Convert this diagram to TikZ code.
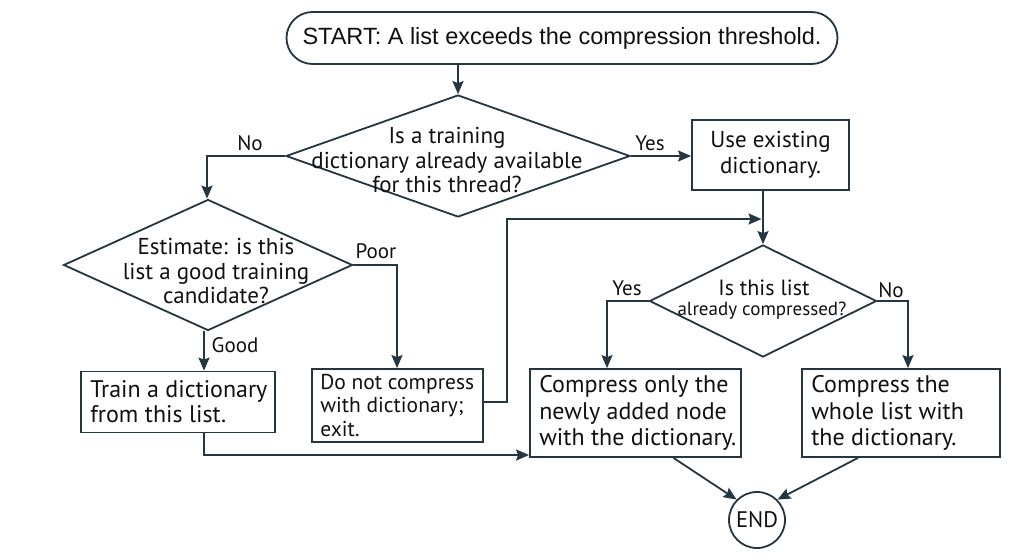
\documentclass[tikz,border=0pt]{standalone}
\usepackage{fontspec}
\setmainfont{PT Sans}
\newfontfamily\startfont{Liberation Sans}
\usetikzlibrary{arrows.meta,shapes.geometric}
\definecolor{ln}{HTML}{233641}
\definecolor{tx}{HTML}{111111}
\begin{document}
\begin{tikzpicture}[x=1pt,y=-1pt,
  conn/.style={draw=ln,line width=1.8pt,-{Stealth[length=13pt,width=11pt,inset=2pt]}},
  boxnode/.style={draw=ln,line width=1.8pt,fill=white,inner sep=0pt},
  btext/.style={text=tx,inner sep=0pt,align=left,anchor=west},
  dia/.style={draw=ln,line width=1.8pt,shape=diamond,inner sep=0pt,fill=white},
  dtext/.style={text=tx,align=center,inner sep=0pt,font=\fontsize{23}{24.5}\selectfont},
  lab/.style={text=tx,inner sep=0pt,font=\fontsize{21}{24}\selectfont}
]
\useasboundingbox[fill=white] (0,0) rectangle (1024,559);

% nodes
\node[draw=ln,line width=1.8pt,rounded corners=26pt,minimum width=551pt,minimum height=52pt,
      inner sep=0pt,text=tx,font=\startfont\fontsize{23.5}{26}\selectfont] (st) at (562,38)
      {START: A list exceeds the compression threshold.};

\node[dia,minimum width=344pt,minimum height=122pt] (d1) at (458,156) {};
\node[dtext] (t1) at (447,160) {Is a training\\dictionary already available\\for this thread?};

\node[boxnode,minimum width=157pt,minimum height=70pt] (use) at (770.5,155) {};
\node[text=tx,inner sep=0pt,align=center,font=\fontsize{23}{26}\selectfont] (usetext) at (use.center)
      {Use existing\\dictionary.};

\node[dia,minimum width=289pt,minimum height=131pt] (d2) at (208,265) {};
\node[dtext] (t2) at (216,271) {Estimate: is this\\list a good training\\candidate?};

\node[dia,minimum width=227pt,minimum height=112pt] (d3) at (763,301) {};
\node[text=tx,inner sep=0pt,anchor=base,font=\fontsize{22}{24}\selectfont] (t3a) at (764,295) {Is this list};
\node[text=tx,inner sep=0pt,anchor=base,font=\fontsize{19}{22}\selectfont] (t3b) at (762,315) {already compressed?};

\node[boxnode,minimum width=194pt,minimum height=61pt] (train) at (178,402) {};
\node[btext,font=\fontsize{24}{25}\selectfont] (traintext) at ([xshift=10pt]train.west)
      {Train a dictionary\\from this list.};

\node[boxnode,minimum width=171pt,minimum height=73pt] (donot) at (397.5,405.5) {};
\node[btext,font=\fontsize{21.5}{23.5}\selectfont] (donottext) at ([xshift=9pt]donot.west)
      {Do not compress\\with dictionary;\\exit.};

\node[boxnode,minimum width=211pt,minimum height=88pt] (only) at (635.5,413) {};
\node[btext,font=\fontsize{24}{26.5}\selectfont] (onlytext) at ([xshift=10pt]only.west)
      {Compress only the\\newly added node\\with the dictionary.};

\node[boxnode,minimum width=198pt,minimum height=88pt] (whole) at (901,413) {};
\node[btext,font=\fontsize{24}{26.5}\selectfont] (wholetext) at ([xshift=10pt]whole.west)
      {Compress the\\whole list with\\the dictionary.};

\node[draw=ln,line width=1.8pt,circle,minimum size=56pt,inner sep=0pt,text=tx,
      font=\fontsize{22.5}{24}\selectfont] (end) at (757,520) {END};

% labels
\node[lab] (lno1) at (250,143) {No};
\node[lab] (lyes1) at (650,143) {Yes};
\node[lab] (lpoor) at (376,251) {Poor};
\node[lab] (lgood) at (235,345) {Good};
\node[lab] (lyes3) at (627,288) {Yes};
\node[lab] (lno3) at (891,290) {No};

% helper coordinates
\coordinate (cno) at (207,156);
\coordinate (cpoor) at (397,265);
\coordinate (cyes3) at (607,301);
\coordinate (cno3) at (908,301);
\coordinate (ctr) at (204,455);
\coordinate (cdn1) at (507,402);
\coordinate (cdn2) at (507,219);
\coordinate (cdn3) at (761.5,219);

% connectors
\draw[conn] (st.south -| d1.north) -- (d1.north);
\draw[conn] (d1.east) -- (use.west |- d1.east);
\draw[conn] (d1.west) -- (cno) -- (d2.north -| cno);
\draw[conn] (use.south -| d3.north) -- (d3.north);
\draw[conn] (d2.east) -- (cpoor) -- (donot.north -| cpoor);
\draw[conn] (d2.south -| ctr) -- (train.north -| ctr);
\draw[conn] (d3.west) -- (cyes3) -- (only.north -| cyes3);
\draw[conn] (d3.east) -- (cno3) -- (whole.north -| cno3);
\draw[conn] (train.south -| ctr) -- (ctr) -- (only.west |- ctr);
\draw[conn] (donot.east |- cdn1) -- (cdn1) -- (cdn2) -- (cdn3);
\draw[conn] ([xshift=38pt]only.south) -- (end.135);
\draw[conn] ([xshift=-43pt]whole.south) -- (end.45);
\end{tikzpicture}
\end{document}
